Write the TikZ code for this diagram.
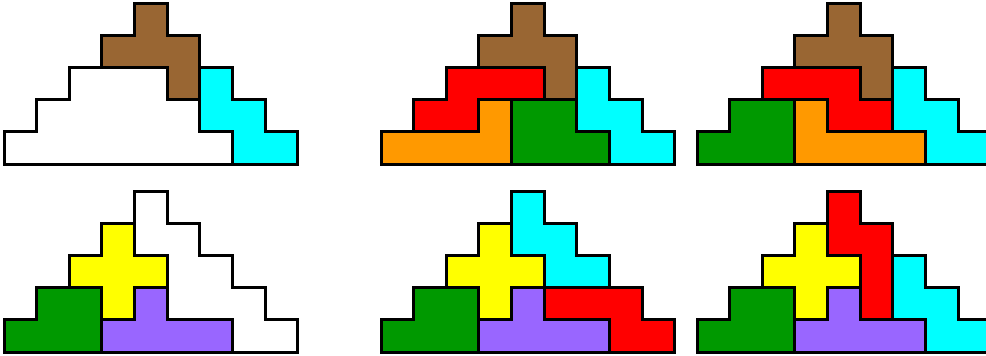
\documentclass[tikz,border=0pt]{standalone}
\usepackage{tikz}

\definecolor{pcbrown}{HTML}{996633}
\definecolor{pccyan}{HTML}{00FFFF}
\definecolor{pcred}{HTML}{FF0000}
\definecolor{pcorange}{HTML}{FF9900}
\definecolor{pcgreen}{HTML}{009900}
\definecolor{pcyellow}{HTML}{FFFF00}
\definecolor{pcpurple}{HTML}{9966FF}

% pieces that come back in several fillings
\newcommand{\brownF}{\draw[tile, fill=pcbrown] (4,5) -- (5,5) -- (5,4) -- (6,4) -- (6,2) -- (5,2) -- (5,3) -- (3,3) -- (3,4) -- (4,4) -- cycle;}
\newcommand{\cyanW}{\draw[tile, fill=pccyan] (6,3) -- (7,3) -- (7,2) -- (8,2) -- (8,1) -- (9,1) -- (9,0) -- (7,0) -- (7,1) -- (6,1) -- cycle;}
\newcommand{\greenP}{\draw[tile, fill=pcgreen] (0,0) -- (3,0) -- (3,2) -- (1,2) -- (1,1) -- (0,1) -- cycle;}
\newcommand{\yellowX}{\draw[tile, fill=pcyellow] (3,4) -- (4,4) -- (4,3) -- (5,3) -- (5,2) -- (4,2) -- (4,1) -- (3,1) -- (3,2) -- (2,2) -- (2,3) -- (3,3) -- cycle;}
\newcommand{\purpleY}{\draw[tile, fill=pcpurple] (3,0) -- (7,0) -- (7,1) -- (5,1) -- (5,2) -- (4,2) -- (4,1) -- (3,1) -- cycle;}

\begin{document}
\begin{tikzpicture}[
  x=16.33pt, y=16.1pt,
  tile/.style={draw=black, line width=1.5pt, line join=miter}
]
\clip (0,0) rectangle (493pt,177.5pt);

% top row
\begin{scope}[shift={(2pt,95.5pt)}]
\draw[tile, fill=white] (2,3) -- (5,3) -- (5,2) -- (6,2) -- (6,1) -- (7,1) -- (7,0) -- (0,0) -- (0,1) -- (1,1) -- (1,2) -- (2,2) -- cycle;
\brownF
\cyanW
\end{scope}

\begin{scope}[shift={(190.5pt,95.5pt)}]
\brownF
\cyanW
\draw[tile, fill=pcred] (2,3) -- (5,3) -- (5,2) -- (3,2) -- (3,1) -- (1,1) -- (1,2) -- (2,2) -- cycle;
\draw[tile, fill=pcorange] (0,0) -- (4,0) -- (4,2) -- (3,2) -- (3,1) -- (0,1) -- cycle;
\draw[tile, fill=pcgreen] (4,0) -- (7,0) -- (7,1) -- (6,1) -- (6,2) -- (4,2) -- cycle;
\end{scope}

\begin{scope}[shift={(348.5pt,95.5pt)}]
\brownF
\cyanW
\draw[tile, fill=pcred] (2,3) -- (5,3) -- (5,2) -- (6,2) -- (6,1) -- (4,1) -- (4,2) -- (2,2) -- cycle;
\greenP
\draw[tile, fill=pcorange] (3,0) -- (7,0) -- (7,1) -- (4,1) -- (4,2) -- (3,2) -- cycle;
\end{scope}

% bottom row
\begin{scope}[shift={(2pt,1.5pt)}]
\draw[tile, fill=white] (4,5) -- (5,5) -- (5,4) -- (6,4) -- (6,3) -- (7,3) -- (7,2) -- (8,2) -- (8,1) -- (9,1) -- (9,0) -- (7,0) -- (7,1) -- (5,1) -- (5,3) -- (4,3) -- cycle;
\greenP
\yellowX
\purpleY
\end{scope}

\begin{scope}[shift={(190.5pt,1.5pt)}]
\greenP
\yellowX
\purpleY
\draw[tile, fill=pccyan] (4,5) -- (5,5) -- (5,4) -- (6,4) -- (6,3) -- (7,3) -- (7,2) -- (5,2) -- (5,3) -- (4,3) -- cycle;
\draw[tile, fill=pcred] (5,1) -- (5,2) -- (8,2) -- (8,1) -- (9,1) -- (9,0) -- (7,0) -- (7,1) -- cycle;
\end{scope}

\begin{scope}[shift={(348.5pt,1.5pt)}]
\greenP
\yellowX
\purpleY
\draw[tile, fill=pcred] (4,5) -- (5,5) -- (5,4) -- (6,4) -- (6,1) -- (5,1) -- (5,3) -- (4,3) -- cycle;
\cyanW
\end{scope}
\end{tikzpicture}
\end{document}
